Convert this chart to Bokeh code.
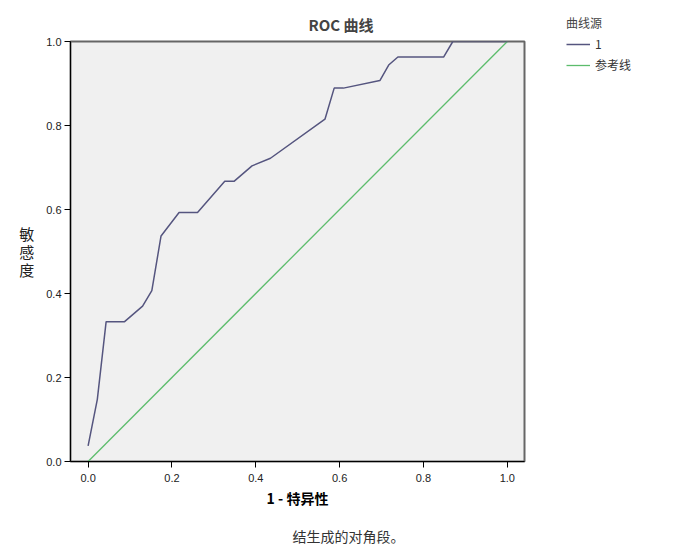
from bokeh.plotting import figure
from bokeh.models import (Range1d, FixedTicker, Legend, LegendItem, Title,
                          ColumnDataSource, PrintfTickFormatter)
from bokeh.embed import file_html
from bokeh.resources import INLINE

# ROC curve values
fpr = [0.0, 0.022, 0.043, 0.087, 0.130, 0.152, 0.174, 0.217, 0.261, 0.326, 0.348,
       0.391, 0.435, 0.565, 0.587, 0.609, 0.696, 0.717, 0.739, 0.848, 0.870, 1.0]
tpr = [0.037, 0.148, 0.333, 0.333, 0.370, 0.407, 0.537, 0.593, 0.593, 0.667, 0.667,
       0.704, 0.722, 0.815, 0.889, 0.889, 0.907, 0.944, 0.963, 0.963, 1.0, 1.0]
ref_x = [0.0, 1.0]
ref_y = [0.0, 1.0]
ticks = [0.0, 0.2, 0.4, 0.6, 0.8, 1.0]

title_text = "ROC 曲线"
x_label = "1 - 特异性"
y_label = "敏\n感\n度"
legend_title = "曲线源"
series_names = ["1", "参考线"]
note_text = "结生成的对角段。"

CURVE = "#55557F"
REF = "#5CBC6C"
FONT = "Liberation Sans"
CJK = "Noto Sans CJK SC"

p = figure(width=692, height=552, output_backend="svg", toolbar_location=None,
           x_range=Range1d(-0.042, 1.041), y_range=Range1d(0.0, 1.0),
           min_border_left=70, min_border_top=41, min_border_right=168,
           min_border_bottom=91)
p.frame_width = 454
p.frame_height = 420
p.background_fill_color = "#F0F0F0"
p.border_fill_color = "white"
p.outline_line_color = "#666666"
p.outline_line_width = 2
p.grid.visible = False

for ax in (p.xaxis, p.yaxis):
    ax.ticker = FixedTicker(ticks=ticks)
    ax.formatter = PrintfTickFormatter(format="%.1f")
    ax.minor_tick_line_color = None
    ax.axis_line_color = "black"
    ax.axis_line_width = 1
    ax.major_tick_line_color = "black"
    ax.major_tick_out = 6
    ax.major_tick_in = 0
    ax.major_label_text_font = FONT
    ax.major_label_text_font_size = "11px"
    ax.major_label_text_color = "#222222"
p.xaxis.major_label_standoff = 6
p.yaxis.major_label_standoff = 3

p.xaxis.axis_label = x_label
p.xaxis.axis_label_text_font = CJK
p.xaxis.axis_label_text_font_style = "bold"
p.xaxis.axis_label_text_font_size = "14px"
p.xaxis.axis_label_text_color = "black"
p.xaxis.axis_label_standoff = 3

p.yaxis.axis_label = y_label
p.yaxis.axis_label_orientation = "horizontal"
p.yaxis.axis_label_text_font = CJK
p.yaxis.axis_label_text_font_style = "normal"
p.yaxis.axis_label_text_font_size = "15px"
p.yaxis.axis_label_text_line_height = 0.85
p.yaxis.axis_label_text_color = "#222222"
p.yaxis.axis_label_standoff = 9

p.title.text = title_text
p.title.text_font = CJK
p.title.text_font_style = "bold"
p.title.text_font_size = "15px"
p.title.align = "left"
p.title.offset = 238
p.title.standoff = 13

src_curve = ColumnDataSource(dict(x=fpr, y=tpr))
src_ref = ColumnDataSource(dict(x=ref_x, y=ref_y))
r_ref = p.line("x", "y", source=src_ref, line_color=REF, line_width=1.3)
r_curve = p.line("x", "y", source=src_curve, line_color=CURVE, line_width=1.5)

legend = Legend(items=[LegendItem(label=series_names[0], renderers=[r_curve]),
                       LegendItem(label=series_names[1], renderers=[r_ref])],
                location=(42, 388), title=legend_title,
                title_text_font=CJK, title_text_font_size="12px",
                title_text_font_style="normal",
                title_text_color="#444444", title_standoff=4,
                label_text_font=CJK, label_text_font_size="12px",
                label_text_color="#333333", glyph_width=24, glyph_height=14,
                label_height=14, spacing=4, padding=0, margin=0,
                background_fill_alpha=0, border_line_color=None)
p.add_layout(legend, "right")

p.add_layout(Title(text=note_text, text_font=CJK, text_font_size="14px",
                   text_font_style="normal", text_color="#333333",
                   align="left", offset=222, standoff=27), "below")

open("out.html", "w").write(file_html(p, INLINE))
